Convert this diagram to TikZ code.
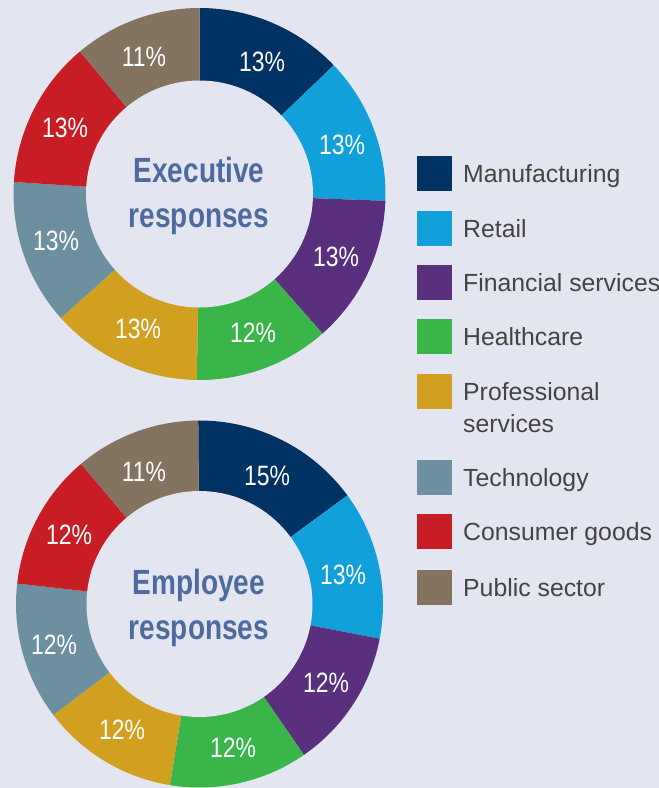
\documentclass[tikz,border=0pt]{standalone}
\usepackage{fontspec}
\setmainfont{Liberation Sans}
\newfontfamily\pctfont[FakeStretch=0.82]{Liberation Sans}
\newfontfamily\titlefont[FakeStretch=0.80]{Liberation Sans}
\definecolor{bgc}{HTML}{E3E6F0}
\definecolor{manu}{HTML}{003263}
\definecolor{retail}{HTML}{12A0DA}
\definecolor{fin}{HTML}{5A2F7E}
\definecolor{health}{HTML}{3AB54A}
\definecolor{prof}{HTML}{D1A020}
\definecolor{tech}{HTML}{6C909F}
\definecolor{cons}{HTML}{C81D24}
\definecolor{pub}{HTML}{84745F}
\definecolor{titlec}{HTML}{4F6B9D}
\definecolor{legc}{HTML}{444444}
\begin{document}
\begin{tikzpicture}[x=1pt,y=1pt,
  pct/.style={text=white,font=\pctfont\fontsize{28}{28}\selectfont,inner sep=0pt},
  ttl/.style={text=titlec,font=\titlefont\bfseries\fontsize{35}{35}\selectfont,inner sep=0pt,anchor=base},
  sw/.style={minimum width=35pt,minimum height=35pt,inner sep=0pt,anchor=north west},
  leg/.style={text=legc,font=\fontsize{24.8}{24.8}\selectfont,inner sep=0pt,anchor=base west}]
\fill[bgc] (0,0) rectangle (659,-788);
\useasboundingbox (0,0) rectangle (659,-788);
% Executive donut
\begin{scope}[shift={(199.5,-194)}]
  \foreach \a/\b/\c in {90/43.8/manu, 43.8/-2.1/retail, -2.1/-48.6/fin, -48.6/-90.8/health,
      -90.8/-138.2/prof, -138.2/-183.7/tech, -183.7/-230/cons, -230/-270/pub}
    \fill[\c] (0,0) -- (\a:186) arc[start angle=\a, end angle=\b, radius=186] -- cycle;
  \fill[bgc] (0,0) circle (113.5);
\end{scope}
% Employee donut
\begin{scope}[shift={(199.5,-604)}]
  \foreach \a/\b/\c in {90.4/36.3/manu, 36.3/-10.9/retail, -10.9/-55.3/fin, -55.3/-99.3/health,
      -99.3/-142.8/prof, -142.8/-186.4/tech, -186.4/-229.8/cons, -229.8/-269.6/pub}
    \fill[\c] (0,0) -- (\a:183.5) arc[start angle=\a, end angle=\b, radius=183.5] -- cycle;
  \fill[bgc] (0,0) circle (113);
\end{scope}
% Executive labels
\node[pct] (e1) at (262,-62) {13\%};
\node[pct] (e2) at (342,-145) {13\%};
\node[pct] (e3) at (336,-257) {13\%};
\node[pct] (e4) at (253,-333) {12\%};
\node[pct] (e5) at (138,-329) {13\%};
\node[pct] (e6) at (56,-241) {13\%};
\node[pct] (e7) at (65,-128) {13\%};
\node[pct] (e8) at (144,-57) {11\%};
\node[ttl] (et1) at (199,-182) {Executive};
\node[ttl] (et2) at (199,-227) {responses};
% Employee labels
\node[pct] (m1) at (267,-476) {15\%};
\node[pct] (m2) at (343,-575) {13\%};
\node[pct] (m3) at (326,-683) {12\%};
\node[pct] (m4) at (233,-748) {12\%};
\node[pct] (m5) at (122,-730) {12\%};
\node[pct] (m6) at (54,-645) {12\%};
\node[pct] (m7) at (69,-535) {12\%};
\node[pct] (m8) at (144,-472) {11\%};
\node[ttl] (mt1) at (199,-594) {Employee};
\node[ttl] (mt2) at (199,-639) {responses};
% Legend
\node[sw,fill=manu] (s1) at (417,-156) {};
\node[leg] (l1) at (463,-182.7) {Manufacturing};
\node[sw,fill=retail] (s2) at (417,-211) {};
\node[leg] (l2) at (463,-237.5) {Retail};
\node[sw,fill=fin] (s3) at (417,-265) {};
\node[leg] (l3) at (463,-291.5) {Financial services};
\node[sw,fill=health] (s4) at (417,-319) {};
\node[leg] (l4) at (463,-345.5) {Healthcare};
\node[sw,fill=prof] (s5) at (417,-374) {};
\node[leg] (l5) at (463,-400.5) {Professional};
\node[leg] (l5b) at (463,-432) {services};
\node[sw,fill=tech] (s6) at (417,-460) {};
\node[leg] (l6) at (463,-486.5) {Technology};
\node[sw,fill=cons] (s7) at (417,-514) {};
\node[leg] (l7) at (463,-540.5) {Consumer goods};
\node[sw,fill=pub] (s8) at (417,-570) {};
\node[leg] (l8) at (463,-596.5) {Public sector};
\end{tikzpicture}
\end{document}
